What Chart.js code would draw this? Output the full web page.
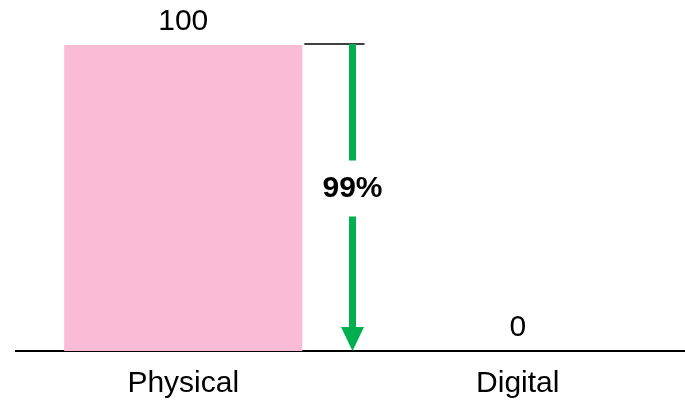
<!DOCTYPE html>
<html>
<head>
<meta charset="utf-8">
<script src="https://cdn.jsdelivr.net/npm/chart.js@4/dist/chart.umd.min.js"></script>
<style>
html,body{margin:0;padding:0;background:#fff;}
#wrap{width:685px;height:403px;position:relative;}
</style>
</head>
<body>
<div id="wrap"><canvas id="c"></canvas></div>
<script>
const categories = ["Physical", "Digital"];
const values = [100, 0];
const changeLabel = "99%";
const barColor = "#F9BBD6";
const arrowColor = "#00B050";

const FONT = "'Liberation Sans', Arial, sans-serif";

const annotate = {
  id: 'annotate',
  afterDatasetsDraw(chart) {
    const ctx = chart.ctx;
    const meta = chart.getDatasetMeta(0);
    const xs = chart.scales.x, ys = chart.scales.y;
    ctx.save();
    // value labels
    ctx.fillStyle = '#000';
    ctx.font = '30px ' + FONT;
    ctx.textAlign = 'center';
    ctx.textBaseline = 'bottom';
    meta.data.forEach((bar, i) => {
      ctx.fillText(String(values[i]), bar.x, bar.y - 8);
    });
    // reference line at top
    const yTop = ys.getPixelForValue(values[0]) - 1;
    const yBot = ys.getPixelForValue(values[1]);
    const b0 = meta.data[0];
    const ax = xs.getPixelForValue(0.5) + 2;
    ctx.strokeStyle = '#000';
    ctx.lineWidth = 1.6;
    ctx.beginPath();
    ctx.moveTo(b0.x + b0.width / 2 + 2, yTop);
    ctx.lineTo(ax + 12, yTop);
    ctx.stroke();
    // arrow
    const midY = (yTop + yBot) / 2 - 9;
    const gap = 28;
    const headH = 24, headW = 23, shaftW = 7;
    ctx.fillStyle = arrowColor;
    ctx.fillRect(ax - shaftW / 2, yTop, shaftW, midY - gap - yTop);
    ctx.fillRect(ax - shaftW / 2, midY + gap, shaftW, yBot - headH - (midY + gap));
    ctx.beginPath();
    ctx.moveTo(ax - headW / 2, yBot - headH);
    ctx.lineTo(ax + headW / 2, yBot - headH);
    ctx.lineTo(ax, yBot);
    ctx.closePath();
    ctx.fill();
    // percentage text
    ctx.fillStyle = '#000';
    ctx.font = 'bold 30px ' + FONT;
    ctx.textBaseline = 'middle';
    ctx.fillText(changeLabel, ax, midY);
    ctx.restore();
  }
};

new Chart(document.getElementById('c'), {
  type: 'bar',
  data: {
    labels: categories,
    datasets: [{
      data: values,
      backgroundColor: barColor,
      borderWidth: 0,
      categoryPercentage: 1,
      barPercentage: 0.712
    }]
  },
  options: {
    responsive: true,
    maintainAspectRatio: false,
    animation: false,
    layout: { padding: { top: 45, left: 16, right: 0, bottom: 0 } },
    plugins: { legend: { display: false }, tooltip: { enabled: false } },
    scales: {
      x: {
        grid: { display: false, drawTicks: false },
        border: { display: true, color: '#000', width: 2 },
        ticks: { color: '#000', font: { family: FONT, size: 30 }, padding: 15 },
        afterFit(scale) { scale.height = 52; }
      },
      y: {
        display: false,
        min: 0,
        max: 100
      }
    }
  },
  plugins: [annotate]
});
</script>
</body>
</html>
